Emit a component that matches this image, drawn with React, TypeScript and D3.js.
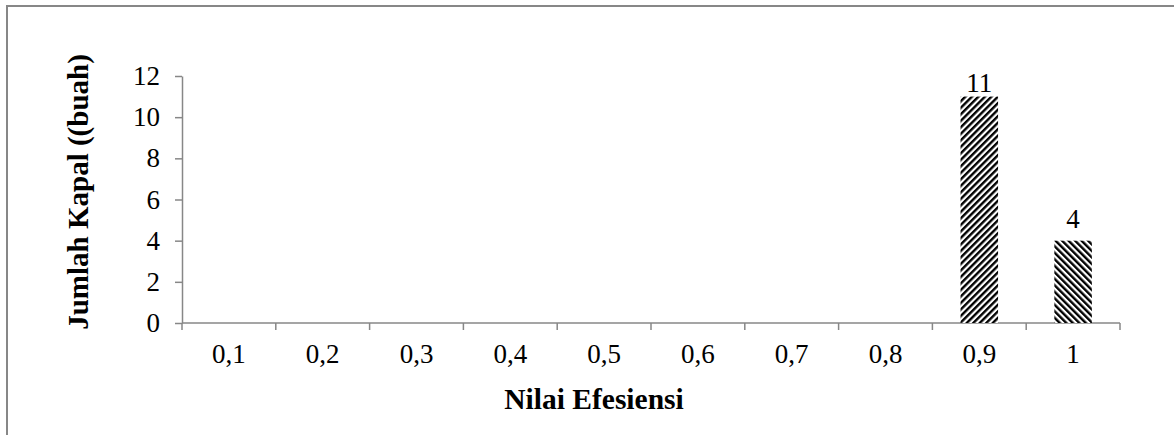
import React, { useEffect, useRef } from "react";
import { select, scaleBand, scaleLinear, axisLeft, axisBottom, range } from "d3";

const width = 1174;
const height = 435;
const margin = { top: 76, right: 54, bottom: 112, left: 182 };

const categories = ["0,1", "0,2", "0,3", "0,4", "0,5", "0,6", "0,7", "0,8", "0,9", "1"];
const counts = [0, 0, 0, 0, 0, 0, 0, 0, 11, 4];
const yTicks = [0, 2, 4, 6, 8, 10, 12];

const axisColor = "#878787";
const font = "Liberation Serif, Times New Roman, DejaVu Serif, serif";

const App = () => {
  const ref = useRef<SVGSVGElement>(null);

  useEffect(() => {
    const svg = select(ref.current);
    svg.selectAll("*").remove();

    const x = scaleBand()
      .domain(categories)
      .range([margin.left, width - margin.right])
      .padding(0);

    const y = scaleLinear()
      .domain([0, 12])
      .range([height - margin.bottom, margin.top]);

    const defs = svg.append("defs");
    [
      ["up", 45],
      ["down", -45],
    ].forEach(([id, angle]) => {
      const p = defs
        .append("pattern")
        .attr("id", `stripe-${id}`)
        .attr("patternUnits", "userSpaceOnUse")
        .attr("width", 4.6)
        .attr("height", 4.6)
        .attr("patternTransform", `rotate(${angle})`);
      p.append("rect").attr("width", 4.6).attr("height", 4.6).attr("fill", "#fff");
      p.append("rect").attr("width", 2.4).attr("height", 4.6).attr("fill", "#000");
    });

    // outer frame (runs off the right and bottom edges)
    svg
      .append("rect")
      .attr("x", 7)
      .attr("y", 6)
      .attr("width", width)
      .attr("height", height)
      .attr("fill", "none")
      .attr("stroke", axisColor)
      .attr("stroke-width", 2);

    const y0 = y(0);

    // y axis
    const yAxis = svg
      .append("g")
      .attr("transform", `translate(${margin.left},0)`)
      .call(axisLeft(y).tickValues(yTicks).tickSize(7).tickSizeOuter(0).tickPadding(15));
    yAxis.select(".domain").attr("stroke", axisColor).attr("stroke-width", 1.5);
    yAxis.selectAll(".tick line").attr("stroke", axisColor).attr("stroke-width", 1.5);
    yAxis
      .selectAll(".tick text")
      .attr("fill", "#000")
      .style("font-family", font)
      .style("font-size", "27px");

    // x axis labels
    const xAxis = svg
      .append("g")
      .attr("transform", `translate(0,${y0})`)
      .call(axisBottom(x).tickSize(0).tickPadding(21));
    xAxis.select(".domain").remove();
    xAxis.selectAll(".tick line").remove();
    xAxis
      .selectAll(".tick text")
      .attr("fill", "#000")
      .style("font-family", font)
      .style("font-size", "27px");

    // x axis line + category boundary ticks
    svg
      .append("line")
      .attr("x1", margin.left)
      .attr("x2", width - margin.right)
      .attr("y1", y0)
      .attr("y2", y0)
      .attr("stroke", axisColor)
      .attr("stroke-width", 1.5);
    svg
      .append("g")
      .selectAll("line")
      .data(range(categories.length + 1))
      .join("line")
      .attr("x1", (i) => margin.left + i * x.step())
      .attr("x2", (i) => margin.left + i * x.step())
      .attr("y1", y0)
      .attr("y2", y0 + 7)
      .attr("stroke", axisColor)
      .attr("stroke-width", 1.5);

    // bars
    const barW = x.bandwidth() * 0.4;
    const data = categories.map((c, i) => ({ c, v: counts[i], i }));
    svg
      .append("g")
      .selectAll("rect")
      .data(data.filter((d) => d.v > 0))
      .join("rect")
      .attr("x", (d) => x(d.c)! + (x.bandwidth() - barW) / 2)
      .attr("y", (d) => y(d.v))
      .attr("width", barW)
      .attr("height", (d) => y0 - y(d.v))
      .attr("fill", (d) => (d.i % 2 === 0 ? "url(#stripe-up)" : "url(#stripe-down)"));

    // value labels
    svg
      .append("g")
      .selectAll("text")
      .data(data.filter((d) => d.v > 0))
      .join("text")
      .attr("x", (d) => x(d.c)! + x.bandwidth() / 2)
      .attr("y", (d) => Math.max(y(d.v) - 13, margin.top + 16))
      .attr("text-anchor", "middle")
      .style("font-family", font)
      .style("font-size", "27px")
      .text((d) => d.v);

    // axis titles
    svg
      .append("text")
      .attr("transform", `translate(88,192) rotate(-90)`)
      .attr("text-anchor", "middle")
      .style("font-family", font)
      .style("font-weight", "bold")
      .style("font-size", "29px")
      .text("Jumlah Kapal ((buah)");

    svg
      .append("text")
      .attr("x", 594)
      .attr("y", 409)
      .attr("text-anchor", "middle")
      .style("font-family", font)
      .style("font-weight", "bold")
      .style("font-size", "29.5px")
      .text("Nilai Efesiensi");
  }, []);

  return (
    <svg
      ref={ref}
      width={width}
      height={height}
      style={{ position: "absolute", left: 0, top: 0, background: "#fff" }}
    />
  );
};

export default App;
